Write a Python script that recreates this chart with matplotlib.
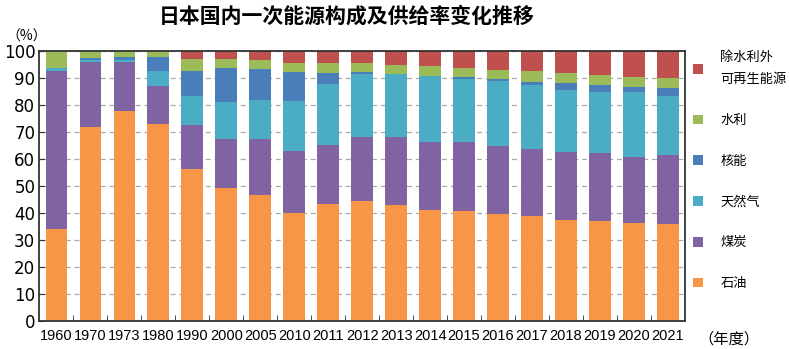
import numpy as np
import matplotlib
matplotlib.use("Agg")
import matplotlib.pyplot as plt
from matplotlib import font_manager

plt.rcParams['font.family'] = ['Noto Sans CJK SC', 'DejaVu Sans']

years = ['1960', '1970', '1973', '1980', '1990', '2000', '2005', '2010', '2011',
         '2012', '2013', '2014', '2015', '2016', '2017', '2018', '2019', '2020', '2021']

# 各能源所占比例 (%)
oil = [34.2, 71.9, 77.7, 72.9, 56.1, 49.3, 46.7, 40.1, 43.2, 44.4,
       42.9, 41.2, 40.6, 39.5, 38.8, 37.5, 37.0, 36.3, 35.8]
coal = [58.4, 23.8, 18.0, 14.1, 16.5, 18.1, 20.6, 22.7, 22.0, 23.5,
        25.0, 25.1, 25.5, 25.3, 25.0, 24.9, 25.1, 24.5, 25.6]
gas = [1.0, 1.0, 0.8, 5.6, 10.7, 13.7, 14.6, 18.5, 22.5, 23.5,
       23.3, 24.3, 23.5, 24.1, 23.5, 23.0, 22.7, 24.0, 21.9]
nuclear = [0.0, 0.6, 1.3, 4.9, 9.3, 12.5, 11.3, 10.9, 4.0, 0.6,
           0.3, 0.0, 0.5, 0.7, 1.2, 2.6, 2.5, 1.9, 3.0]
hydro = [6.4, 2.7, 2.2, 2.5, 4.3, 3.3, 3.4, 3.2, 3.7, 3.3,
         3.3, 3.7, 3.5, 3.4, 3.9, 3.6, 3.7, 3.6, 3.6]
renew = [0.0, 0.0, 0.0, 0.0, 3.1, 3.1, 3.4, 4.6, 4.6, 4.7,
         5.2, 5.7, 6.4, 7.0, 7.6, 8.4, 9.0, 9.7, 10.1]

names = ['石油', '煤炭', '天然气', '核能', '水利', '除水利外\n可再生能源']
colors = ['#F79646', '#8064A2', '#4BACC6', '#4A7EBB', '#9BBB59', '#C0504D']
series = [oil, coal, gas, nuclear, hydro, renew]

fig = plt.figure(figsize=(7.89, 3.49), dpi=100)
ax = fig.add_axes([0.050, 0.080, 0.818, 0.775])

x = np.arange(len(years))
bottom = np.zeros(len(years))
handles = []
for vals, c, n in zip(series, colors, names):
    b = ax.bar(x, vals, 0.64, bottom=bottom, color=c, label=n, zorder=2)
    handles.append(b)
    bottom += np.array(vals)

ax.set_xlim(-0.5, len(years) - 0.5)
ax.set_ylim(0, 100)
ax.set_yticks(np.arange(0, 101, 10))
ax.yaxis.grid(True, linestyle=(0, (4, 3)), color='#aaaaaa', linewidth=0.9, zorder=0)
ax.set_axisbelow(True)

# 年份标签居中，刻度线放在柱子之间
ax.set_xticks(x)
ax.set_xticklabels(years)
ax.set_xticks(np.arange(0.5, len(years) - 1, 1), minor=True)
ax.tick_params(axis='x', which='major', length=0, pad=6)
ax.tick_params(axis='x', which='minor', direction='in', length=4, color='#333333')
ax.tick_params(axis='y', direction='in', length=4, pad=3, color='#333333')

narrow = [f.name for f in font_manager.fontManager.ttflist if f.name == 'Liberation Sans Narrow']
xfont = narrow[0] if narrow else 'Liberation Sans'
for lab in ax.get_xticklabels():
    lab.set_family(xfont)
    lab.set_fontsize(11.5 if narrow else 10.5)
for lab in ax.get_yticklabels():
    lab.set_family('DejaVu Sans')
    lab.set_fontsize(12)

for s in ax.spines.values():
    s.set_color('#333333')
    s.set_linewidth(1.3)

fig.text(0.44, 0.955, '日本国内一次能源构成及供给率变化推移', ha='center', va='center',
         fontsize=15, fontweight='bold')
fig.text(0.008, 0.895, '（%）', ha='left', va='center', fontsize=10)
fig.text(0.885, 0.028, '（年度）', ha='left', va='center', fontsize=11)

leg = ax.legend(handles[::-1], names[::-1], loc='upper left', bbox_to_anchor=(1.005, 1.02),
                frameon=False, fontsize=9.5, handlelength=0.75, handleheight=0.75,
                handletextpad=1.3, labelspacing=2.1, borderaxespad=0)
leg.get_texts()[0].set_linespacing(2.0)

fig.savefig('out.png', dpi=100)
